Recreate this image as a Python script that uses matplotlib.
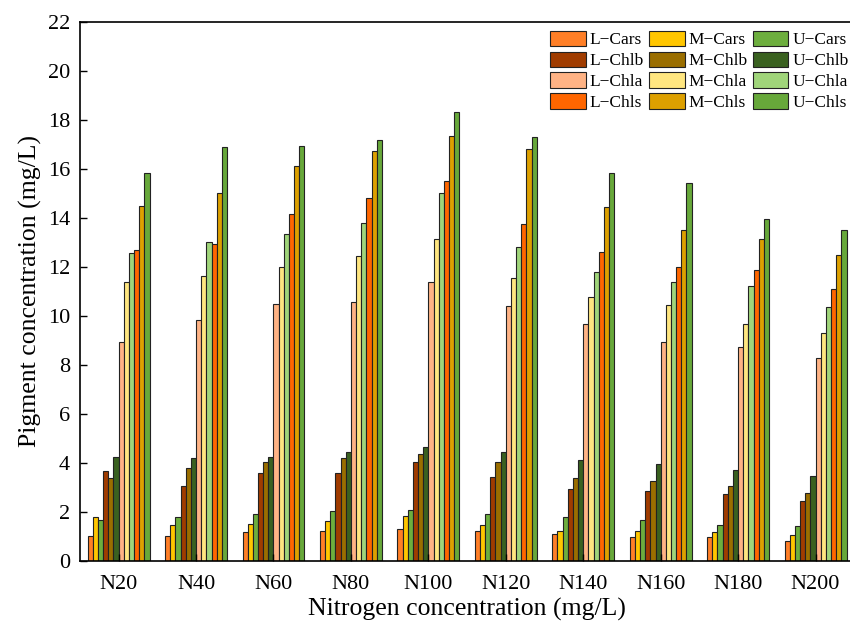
import numpy as np
import matplotlib
matplotlib.use("Agg")
import matplotlib.pyplot as plt

plt.rcParams["font.family"] = ["Liberation Serif", "DejaVu Serif"]

groups = ["N20", "N40", "N60", "N80", "N100", "N120", "N140", "N160", "N180", "N200"]

# values per series (mg/L)
l_cars = [1.00, 1.03, 1.17, 1.21, 1.29, 1.21, 1.10, 0.99, 0.97, 0.82]
m_cars = [1.81, 1.47, 1.50, 1.65, 1.85, 1.47, 1.22, 1.21, 1.17, 1.06]
u_cars = [1.67, 1.81, 1.92, 2.03, 2.07, 1.92, 1.81, 1.66, 1.47, 1.44]
l_chlb = [3.69, 3.06, 3.58, 3.58, 4.03, 3.44, 2.95, 2.84, 2.73, 2.44]
m_chlb = [3.37, 3.81, 4.05, 4.22, 4.35, 4.03, 3.40, 3.25, 3.06, 2.78]
u_chlb = [4.26, 4.22, 4.26, 4.44, 4.65, 4.44, 4.11, 3.94, 3.70, 3.47]
l_chla = [8.94, 9.84, 10.50, 10.58, 11.39, 10.39, 9.66, 8.95, 8.72, 8.27]
m_chla = [11.37, 11.61, 12.01, 12.46, 13.13, 11.54, 10.76, 10.46, 9.66, 9.32]
u_chla = [12.56, 13.00, 13.33, 13.78, 15.00, 12.80, 11.78, 11.39, 11.24, 10.35]
l_chls = [12.68, 12.93, 14.16, 14.83, 15.50, 13.76, 12.60, 11.99, 11.86, 11.09]
m_chls = [14.48, 15.00, 16.12, 16.72, 17.35, 16.82, 14.45, 13.50, 13.13, 12.50]
u_chls = [15.82, 16.90, 16.95, 17.18, 18.31, 17.29, 15.82, 15.41, 13.95, 13.50]

series = [
    ("L\u2212Cars", l_cars, "#FF7F27"),
    ("M\u2212Cars", m_cars, "#FFC600"),
    ("U\u2212Cars", u_cars, "#6DAE3E"),
    ("L\u2212Chlb", l_chlb, "#A03C00"),
    ("M\u2212Chlb", m_chlb, "#9A6E00"),
    ("U\u2212Chlb", u_chlb, "#3A6120"),
    ("L\u2212Chla", l_chla, "#FFB385"),
    ("M\u2212Chla", m_chla, "#FFE680"),
    ("U\u2212Chla", u_chla, "#A0D57A"),
    ("L\u2212Chls", l_chls, "#FF6600"),
    ("M\u2212Chls", m_chls, "#DDA000"),
    ("U\u2212Chls", u_chls, "#67A83A"),
]

fig = plt.figure(figsize=(8.5, 6.24), dpi=100)
ax = fig.add_axes([0.094, 0.101, 0.911, 0.864])

x = np.arange(len(groups))
n = len(series)
w = 0.8 / n
handles = {}
for i, (name, vals, col) in enumerate(series):
    b = ax.bar(x - 0.4 + w * (i + 0.5), vals, w, color=col,
               edgecolor="#222222", linewidth=0.8, label=name)
    handles[name] = b

# legend fills column-wise: L, M, U
order = [0, 3, 6, 9, 1, 4, 7, 10, 2, 5, 8, 11]
hs = [handles[series[k][0]] for k in order]
ls = [series[k][0] for k in order]
ax.legend(hs, ls, ncol=3, loc="upper right", bbox_to_anchor=(0.997, 0.99),
          frameon=False, fontsize=12.5, handlelength=2.05, handleheight=1.0,
          handletextpad=0.22, columnspacing=0.3, labelspacing=0.18,
          borderpad=0.1, borderaxespad=0.1)

ax.set_xlim(-0.5, 9.5)
ax.set_ylim(0, 22)
ax.set_yticks(np.arange(0, 23, 2))
ax.set_xticks(x)
ax.set_xticklabels(groups)
ax.tick_params(direction="in", labelsize=16, length=5, width=1)
ax.tick_params(axis="y", pad=7)
ax.tick_params(axis="x", pad=10)
for s in ax.spines.values():
    s.set_linewidth(1.2)

ax.set_xlabel("Nitrogen concentration (mg/L)", fontsize=18.5, labelpad=3)
ax.set_ylabel("Pigment concentration (mg/L)", fontsize=18.5, labelpad=4)

fig.savefig("out.png", dpi=100)
